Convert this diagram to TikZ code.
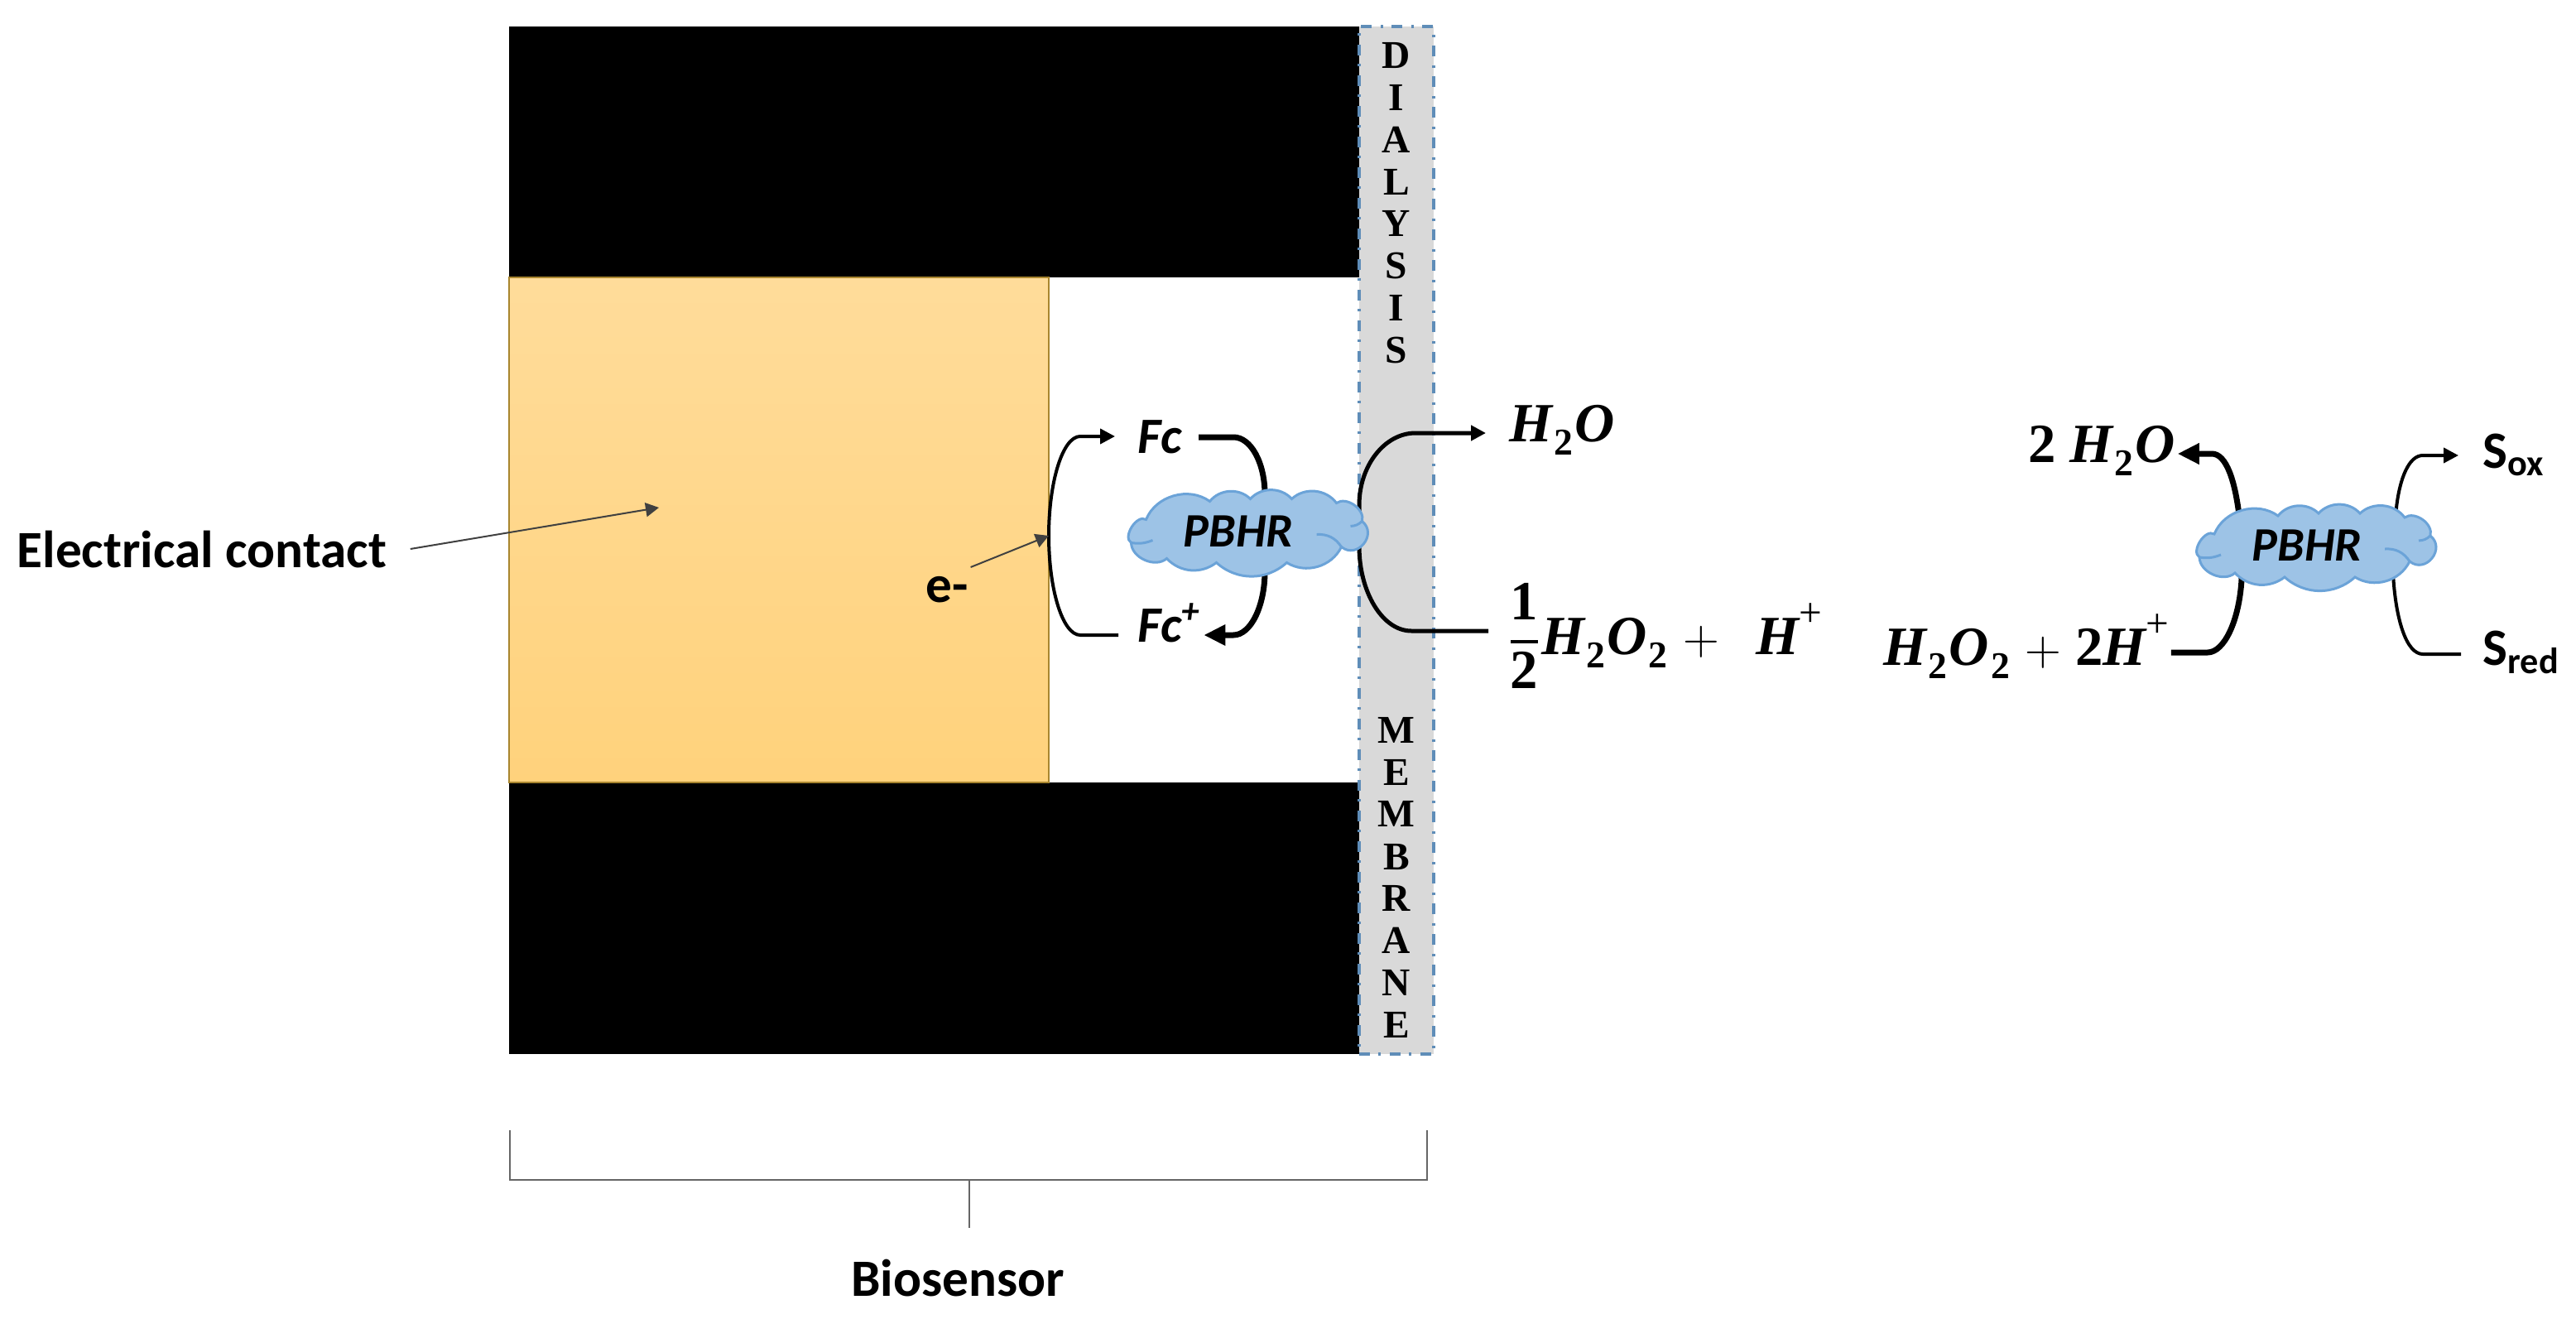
\documentclass[tikz,border=0pt]{standalone}
\usepackage{amsmath}
\usepackage{amssymb}
\usepackage{fontspec}
\usepackage{tikz}
\usetikzlibrary{arrows.meta}
\newfontfamily\calib{Carlito}
\newfontfamily\lettfont{Liberation Serif}
\definecolor{contacttop}{HTML}{FFDC9A}
\definecolor{contactbot}{HTML}{FFD27C}
\definecolor{contactline}{HTML}{A8862F}
\definecolor{membfill}{HTML}{D9D9D9}
\definecolor{membline}{HTML}{5F8DB8}
\definecolor{cloudfill}{HTML}{9DC3E6}
\definecolor{cloudline}{HTML}{6BA3D8}
\definecolor{bracketgray}{HTML}{666666}
\newcommand{\subtwo}{\kern0.6pt\raisebox{-0.55ex}{\fontsize{13}{13}\selectfont\upshape 2}\kern0.6pt}
\newcommand{\supplus}{\raisebox{1.1ex}{\fontsize{14}{14}\selectfont\upshape\mdseries +}}
\newcommand{\enzymecloud}[2]{
\begin{scope}[shift={(#1,#2)}]
\draw[enzyme] (-1.22,0.15) to[bend left=52] (-0.45,0.37) to[bend left=48] (0.04,0.40) to[bend left=48] (0.54,0.40) to[bend left=48] (1.08,0.35) to[bend left=70] (1.39,0.13) to[bend left=90,looseness=1.6] (1.14,-0.18) to[bend left=48] (0.48,-0.37) to[bend left=42] (-0.37,-0.37) to[bend left=42] (-0.97,-0.32) to[bend left=65] (-1.40,-0.13) to[bend left=90] cycle;
\draw[enzymefold] (1.14,-0.18) to[bend right=30] (0.84,-0.03);
\draw[enzymefold] (1.39,0.13) to[bend left=20] (1.25,0.07);
\draw[enzymefold] (-1.40,-0.13) to[bend right=15] (-1.14,-0.10);
\end{scope}
}

\begin{document}
\begin{tikzpicture}[
  block/.style={shape=rectangle,inner sep=0pt,outer sep=0pt},
  letter/.style={font=\lettfont\bfseries\fontsize{13.5}{14}\selectfont,inner sep=0pt},
  enzyme/.style={fill=cloudfill,draw=cloudline,line width=0.3mm},
  enzymefold/.style={draw=cloudline,line width=0.3mm},
  enzymetext/.style={font=\calib\bfseries\itshape\fontsize{16.5}{18}\selectfont,inner sep=0pt},
  ferro/.style={font=\calib\bfseries\itshape\fontsize{17.5}{18}\selectfont,inner sep=0pt,anchor=base west},
  word/.style={font=\calib\bfseries\fontsize{18}{20}\selectfont,inner sep=0pt},
  chem/.style={font=\lettfont\bfseries\itshape\fontsize{19}{21}\selectfont,inner sep=0pt},
  thinflow/.style={line width=0.4mm},
  thickflow/.style={line width=0.7mm},
  thintip/.style={-{Triangle[length=1.8mm,width=1.8mm]}},
  thicktip/.style={-{Triangle[length=2.6mm,width=2.4mm]}},
  pointer/.style={line width=0.2mm,black!75,-{Triangle[length=1.6mm,width=1.7mm]}},
  bracket/.style={draw=bracketgray,line width=0.25mm}]
\useasboundingbox (0,0) rectangle (31.12,15.92);
\draw (11.285,14.085) node (top) [block,fill=black,minimum width=10.27cm,minimum height=3.03cm] {};
\draw (11.285,4.83) node (bottom) [block,fill=black,minimum width=10.27cm,minimum height=3.28cm] {};
\draw (9.41,9.52) node (contact) [block,top color=contacttop,bottom color=contactbot,draw=contactline,line width=0.2mm,minimum width=6.52cm,minimum height=6.10cm] {};
\draw (16.87,9.395) node (memb) [block,fill=membfill,draw=membline,line width=0.35mm,dash pattern=on 1.3mm off 1mm on 0.3mm off 1.1mm,minimum width=0.90cm,minimum height=12.41cm] {};
% membrane letters
\draw (memb.north) ++(down:0.350000cm) node (d1) [letter] {D};
\draw (memb.north) ++(down:0.860000cm) node (d2) [letter] {I};
\draw (memb.north) ++(down:1.370000cm) node (d3) [letter] {A};
\draw (memb.north) ++(down:1.880000cm) node (d4) [letter] {L};
\draw (memb.north) ++(down:2.380000cm) node (d5) [letter] {Y};
\draw (memb.north) ++(down:2.890000cm) node (d6) [letter] {S};
\draw (memb.north) ++(down:3.400000cm) node (d7) [letter] {I};
\draw (memb.north) ++(down:3.910000cm) node (d8) [letter] {S};
\draw (memb.south) ++(up:3.910000cm) node (m1) [letter] {M};
\draw (memb.south) ++(up:3.400000cm) node (m2) [letter] {E};
\draw (memb.south) ++(up:2.900000cm) node (m3) [letter] {M};
\draw (memb.south) ++(up:2.380000cm) node (m4) [letter] {B};
\draw (memb.south) ++(up:1.880000cm) node (m5) [letter] {R};
\draw (memb.south) ++(up:1.370000cm) node (m6) [letter] {A};
\draw (memb.south) ++(up:0.860000cm) node (m7) [letter] {N};
\draw (memb.south) ++(up:0.350000cm) node (m8) [letter] {E};
% labels
\draw (13.74,10.45) node (fc) [ferro] {Fc};
\draw (13.74,8.17) node (fcp) [ferro] {Fc\textsuperscript{+}};
\draw (18.23,10.59) node (water) [chem,anchor=base west] {H\subtwo O};
\draw (18.20,8.02) node (perox) [chem,anchor=base west] {$\genfrac{}{}{1pt}{0}{\text{\upshape 1}}{\text{\upshape 2}}$H\subtwo O\subtwo\ $+$\ \ \,H\supplus};
\draw (24.50,10.34) node (water2) [chem,anchor=base west] {\textup{2} H\subtwo O};
\draw (22.75,7.89) node (perox2) [chem,anchor=base west] {H\subtwo O\subtwo\ $+$ \textup{2}H\supplus};
\draw (29.99,10.27) node (sox) [word,anchor=base west] {S\textsubscript{ox}};
\draw (29.99,7.89) node (sred) [word,anchor=base west] {S\textsubscript{red}};
\draw (0.20,9.07) node (elec) [word,anchor=base west] {Electrical contact};
\draw (11.18,8.65) node (eminus) [word,anchor=base west] {e-};
\draw (11.57,0.27) node (bio) [word,anchor=base] {Biosensor};
% free ends
\coordinate (edge1) at (12.67,9.45);
\coordinate (elecend) at (7.96,9.79);
\coordinate (brl) at (6.16,2.27);
\coordinate (brr) at (17.24,2.27);
\coordinate (brm) at (11.71,1.67);
\coordinate (brs) at (11.71,1.09);
% cycles behind the enzymes
\draw[thinflow,thintip] ([shift={(-0.23,0.08)}]fcp.base west) -- ++(left:0.46cm) .. controls +(-0.21,0) and +(0,-0.66) .. (edge1) .. controls +(0,0.66) and +(-0.21,0) .. ([shift={(-0.69,0.20)}]fc.base west) -- ([shift={(-0.27,0.20)}]fc.base west);
\draw[thickflow,thicktip] ([shift={(0.20,0.19)}]fc.base east) -- ++(right:0.42cm) .. controls +(0.21,0) and +(0,0.38) .. (15.28,9.95) -- (15.28,9.02) .. controls +(0,-0.42) and +(0.21,0) .. (14.90,8.25) -- ([shift={(0.03,0.08)}]fcp.base east);
\draw[thinflow,line width=0.5mm,thintip] ([shift={(-0.22,0.28)}]perox.base west) -- ++(left:0.93cm) .. controls +(-0.35,0) and +(0,-0.55) .. (16.42,9.32) -- (16.42,9.82) .. controls +(0,0.48) and +(-0.37,0) .. (17.10,10.69) -- ([shift={(-0.28,0.10)}]water.base west);
\draw[thickflow,thicktip] ([shift={(0.02,0.15)}]perox2.base east) -- ++(right:0.44cm) .. controls +(0.20,0) and +(-0.03,-0.50) .. (27.08,8.92) -- (27.05,9.70) .. controls +(-0.05,0.40) and +(0.18,0) .. (26.72,10.44) -- ([shift={(0.02,0.10)}]water2.base east);
\draw[thinflow,thintip] ([shift={(-0.26,0.13)}]sred.base west) -- ++(left:0.46cm) .. controls +(-0.20,0) and +(0.03,-0.55) .. (28.91,8.99) -- (28.95,9.79) .. controls +(0.04,0.35) and +(-0.17,0) .. (29.27,10.42) -- ([shift={(-0.29,0.15)}]sox.base west);
% enzymes
\enzymecloud{15.065}{9.495}
\enzymecloud{27.97}{9.32}
\draw (14.96,9.50) node (pbhr1) [enzymetext] {PBHR};
\draw (27.87,9.33) node (pbhr2) [enzymetext] {PBHR};
% pointers
\draw[pointer] ([shift={(0.28,0.22)}]elec.base east) -- (elecend);
\draw[pointer] ([shift={(0.02,0.42)}]eminus.base east) -- (edge1);
% bracket under the sensor
\draw[bracket] (brl) |- (brm) -| (brr);
\draw[bracket,line width=0.2mm] (brm) -- (brs);
\end{tikzpicture}
\end{document}
